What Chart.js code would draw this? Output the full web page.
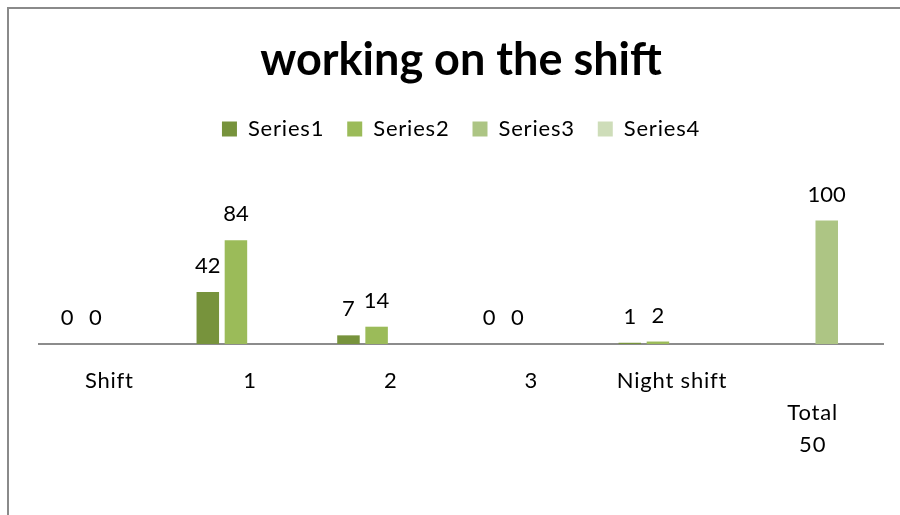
<!DOCTYPE html>
<html>
<head>
<meta charset="utf-8">
<script src="https://cdn.jsdelivr.net/npm/chart.js@4.4.1/dist/chart.umd.min.js"></script>
<style>
  html, body { margin: 0; padding: 0; background: #fff; }
  #wrap { position: relative; width: 900px; height: 515px; overflow: hidden; }
  #frame { position: absolute; left: 7px; top: 7px; width: 1000px; height: 600px;
           border-left: 2px solid #8a8a8a; border-top: 2px solid #8a8a8a; }
  canvas { position: absolute; left: 0; top: 0; }
</style>
</head>
<body>
<div id="wrap">
  <div id="frame"></div>
  <canvas id="c" width="900" height="515"></canvas>
</div>
<script>
const titleText = 'working on the shift';
const categories = ['Shift', '1', '2', '3', 'Night shift', ['Total', '50']];
const seriesNames = ['Series1', 'Series2', 'Series3', 'Series4'];
const series1 = [0, 42, 7, 0, 1, null];
const series2 = [0, 84, 14, 0, 2, null];
const series3 = [null, null, null, null, null, 100];
const series4 = [null, null, null, null, null, null];
const seriesColors = ['#77933C', '#9BBB59', '#ADC584', '#CEDDB9'];

const FONT = 'Lato, Carlito, Calibri, sans-serif';
const TEXT_SPACING = '0.8px';

// slightly wider letter spacing for legend / axis text (reference text is wider than Lato)
const spacing = {
  id: 'spacing',
  beforeUpdate(chart) { chart.ctx.letterSpacing = TEXT_SPACING; },
  beforeLayout(chart) { chart.ctx.letterSpacing = TEXT_SPACING; },
  beforeDraw(chart) { chart.ctx.letterSpacing = TEXT_SPACING; }
};

const valueLabels = {
  id: 'valueLabels',
  afterDatasetsDraw(chart) {
    const ctx = chart.ctx;
    ctx.save();
    ctx.letterSpacing = '0px';
    ctx.font = '22px ' + FONT;
    ctx.fillStyle = '#000';
    ctx.textAlign = 'center';
    ctx.textBaseline = 'middle';
    chart.data.datasets.forEach((ds, di) => {
      const meta = chart.getDatasetMeta(di);
      meta.data.forEach((el, i) => {
        const v = ds.data[i];
        if (v === null || v === undefined) return;
        ctx.fillText(String(v), el.x, el.y - 26);
      });
    });
    ctx.restore();
  }
};

const allSeries = [series1, series2, series3, series4];
const chart = new Chart(document.getElementById('c'), {
  type: 'bar',
  data: {
    labels: categories,
    datasets: allSeries.map((d, i) => ({
      label: seriesNames[i],
      data: d,
      backgroundColor: seriesColors[i],
      borderWidth: 0,
      categoryPercentage: 0.8,
      barPercentage: 0.8
    }))
  },
  options: {
    responsive: false,
    animation: false,
    layout: { padding: { left: 39, right: 17, top: 0, bottom: 0 } },
    plugins: {
      tooltip: { enabled: false },
      title: {
        display: true,
        text: titleText,
        color: '#000',
        font: { family: FONT, size: 45, weight: 'bold', lineHeight: 1.2 },
        padding: { top: 33, bottom: 8 }
      },
      legend: {
        display: true,
        position: 'top',
        labels: {
          color: '#000',
          font: { family: FONT, size: 22 },
          boxWidth: 15,
          boxHeight: 15,
          padding: 23
        }
      }
    },
    scales: {
      x: {
        grid: { display: false, drawTicks: false, tickLength: 0 },
        border: { display: true, color: '#8c8c8c', width: 2 },
        ticks: {
          color: '#000',
          font: { family: FONT, size: 22, lineHeight: 1.45 },
          padding: 21,
          maxRotation: 0,
          autoSkip: false,
          callback: function(value, index) {
            const l = categories[index];
            return Array.isArray(l) ? [''].concat(l) : l;
          }
        },
        afterFit(scale) { scale.height = 171; }
      },
      y: {
        display: false,
        min: 0,
        max: 157
      }
    }
  },
  plugins: [spacing, valueLabels]
});

// title keeps normal letter spacing
const tb = chart.titleBlock;
if (tb) {
  const origDraw = tb.draw.bind(tb);
  tb.draw = function(area) {
    const c = chart.ctx;
    const prev = c.letterSpacing;
    c.letterSpacing = '0px';
    origDraw(area);
    c.letterSpacing = prev;
  };
  chart.draw();
}
</script>
</body>
</html>
